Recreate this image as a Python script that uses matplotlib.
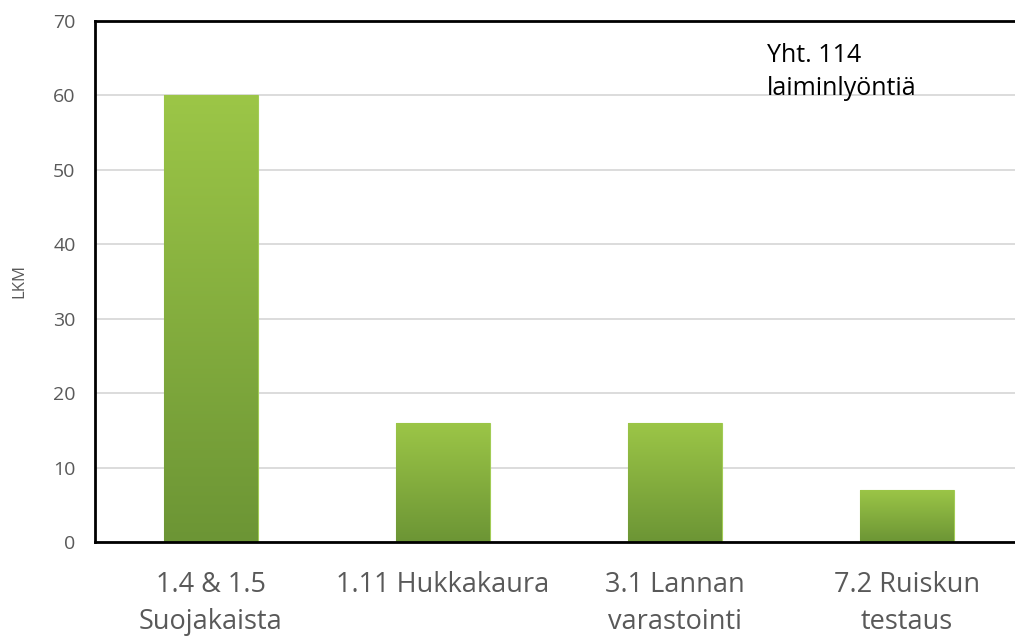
import matplotlib
matplotlib.use("Agg")
import matplotlib.pyplot as plt
import numpy as np
from matplotlib.colors import LinearSegmentedColormap

categories = ["1.4 & 1.5\nSuojakaista", "1.11 Hukkakaura", "3.1 Lannan\nvarastointi", "7.2 Ruiskun\ntestaus"]
values = [60, 16, 16, 7]
y_ticks = [0, 10, 20, 30, 40, 50, 60, 70]
note_text = "Yht. 114\nlaiminlyöntiä"
y_label = "LKM"

plt.rcParams['font.family'] = ['Open Sans', 'DejaVu Sans']

fig = plt.figure(figsize=(10.15, 6.36), dpi=100)
ax = fig.add_axes([95/1015, 1 - 542/636, 928/1015, 521/636])

x = np.arange(len(categories))
bars = ax.bar(x, values, width=0.405, color='#8AB43F', edgecolor='#A2CC55', linewidth=0.8, zorder=2)

cmap = LinearSegmentedColormap.from_list('g', ['#6C9535', '#9CC647'])
grad = np.linspace(0, 1, 256).reshape(-1, 1)
for b in bars:
    bx, by = b.get_x(), b.get_y()
    w, h = b.get_width(), b.get_height()
    im = ax.imshow(grad, cmap=cmap, aspect='auto', origin='lower',
                   extent=[bx, bx + w, by, by + h], zorder=2.5)
    im.set_clip_path(b)

ax.set_xlim(-0.5, 3.5)
ax.set_ylim(0, 70)
ax.set_yticks(y_ticks)
ax.set_xticks(x)
ax.set_xticklabels(categories, fontsize=19.5, color='#595959', linespacing=1.4)
ax.tick_params(axis='y', length=0, pad=14, labelsize=14, labelcolor='#595959')
ax.tick_params(axis='x', length=0, pad=21)
ax.grid(axis='y', color='#D9D9D9', linewidth=1.3, zorder=0)
ax.set_axisbelow(True)

for s in ['left', 'top', 'bottom']:
    ax.spines[s].set_color('black')
    ax.spines[s].set_linewidth(2)
ax.spines['right'].set_visible(False)

ax.set_ylabel(y_label, fontsize=12, color='#595959')
ax.yaxis.set_label_coords(-0.073, 0.5)

fig.text(767/1015, 1 - 43/636, note_text, fontsize=18, color='black', va='top', ha='left', linespacing=1.4)

fig.savefig("out.png", dpi=100)
